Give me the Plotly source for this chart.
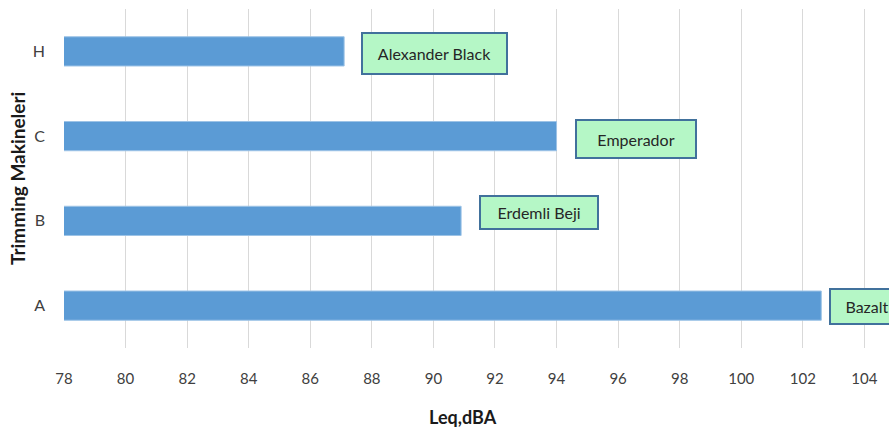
import plotly.graph_objects as go

categories = ["A", "B", "C", "H"]
values = [102.6, 90.9, 94.0, 87.1]
labels = ["Bazalt", "Erdemli Beji", "Emperador", "Alexander Black"]
tick_vals = list(range(78, 105, 2))

# annotation styling (pixel offsets / box sizes)
ann_xshift = [8, 18, 18, 17]
ann_yshift = [-1, 8, -2.5, -2.5]
ann_w = [70, 114, 116, 141]
ann_h = [31, 29, 34, 37]

BAR = "#5B9BD5"
FONT = "Lato, 'Liberation Sans Narrow', sans-serif"

ML, MR, MT, MB = 63.5, 0, 9, 82
W, H = 889, 430
pw = W - ML - MR
ph = H - MT - MB

fig = go.Figure()
fig.add_trace(go.Bar(
    y=categories, x=values, orientation="h",
    marker=dict(color=BAR, line=dict(color="#9DC3E6", width=1)),
    width=0.345, showlegend=False,
))

for c, v, t, xs, ys, w, h in zip(categories, values, labels, ann_xshift, ann_yshift, ann_w, ann_h):
    fig.add_annotation(
        x=v, y=c, xref="x", yref="y", text=t, showarrow=False,
        xanchor="left", yanchor="middle", xshift=xs, yshift=ys,
        width=w, height=h, align="center", valign="middle",
        bgcolor="#B5F7C6", bordercolor="#41719C", borderwidth=2, borderpad=1,
        font=dict(family=FONT, size=16, color="#262626"),
    )

fig.add_annotation(
    x=(463 - ML) / pw, y=(H - MB - 417) / ph, xref="paper", yref="paper",
    text="<b>Leq,dBA</b>", showarrow=False, xanchor="center", yanchor="middle",
    font=dict(family=FONT, size=18, color="#1a1a1a"),
)
fig.add_annotation(
    x=(17 - ML) / pw, y=0.5, xref="paper", yref="paper",
    text="<b>Trimming Makineleri</b>", showarrow=False, textangle=-90,
    xanchor="center", yanchor="middle",
    font=dict(family=FONT, size=19, color="#1a1a1a"),
)

fig.update_layout(
    width=W, height=H,
    margin=dict(l=ML, r=MR, t=MT, b=MB, autoexpand=False),
    paper_bgcolor="white", plot_bgcolor="white",
    font=dict(family=FONT, size=15, color="#595959"),
    xaxis=dict(
        range=[78, 104.8], tickvals=tick_vals, showgrid=True, gridcolor="#D9D9D9",
        gridwidth=1, zeroline=False, showline=False, ticks="", automargin=False,
        tickfont=dict(family=FONT, size=15, color="#404040"), ticklabelstandoff=20,
    ),
    yaxis=dict(
        categoryorder="array", categoryarray=categories, showgrid=False,
        zeroline=False, showline=False, ticks="", ticklabelstandoff=18, automargin=False,
        tickfont=dict(family=FONT, size=16, color="#404040"),
    ),
)

fig.write_html(
    "out.html",
    config={"displayModeBar": False},
    post_script="document.body.style.margin='0';document.body.style.overflow='hidden';",
)
